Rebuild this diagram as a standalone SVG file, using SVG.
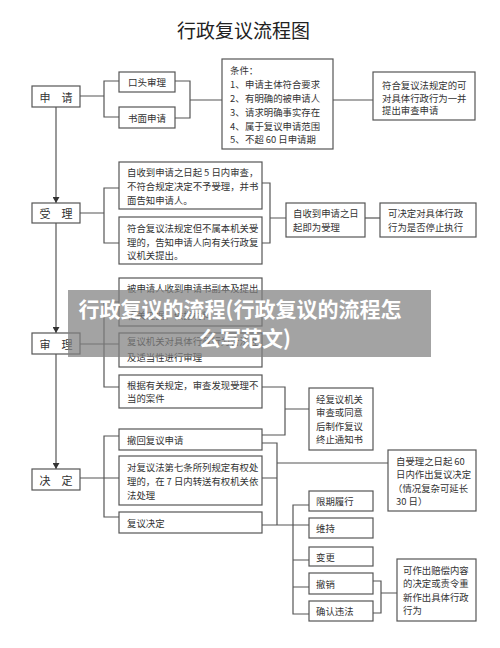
<svg xmlns="http://www.w3.org/2000/svg" width="500" height="648" viewBox="0 0 500 648">
<defs>
<style>
.box{fill:#fff;stroke:#555;stroke-width:1.2}
.c{fill:none;stroke:#555;stroke-width:1.2}
.t{font-family:"Noto Sans CJK SC","Liberation Sans",sans-serif;font-size:9.4px;fill:#333;dominant-baseline:central}
.lbl{font-family:"Noto Sans CJK SC","Liberation Sans",sans-serif;font-size:11px;fill:#333;dominant-baseline:central;text-anchor:middle}
.title{font-family:"Noto Sans CJK SC","Liberation Sans",sans-serif;font-size:19px;fill:#222;text-anchor:middle}
.wm{font-family:"Noto Sans CJK SC","Liberation Sans",sans-serif;font-size:21px;font-weight:bold;fill:#fff;text-anchor:middle;dominant-baseline:central}
</style>
<marker id="down" markerUnits="userSpaceOnUse" markerWidth="7" markerHeight="6" viewBox="0 0 7 6" refX="3.5" refY="6" orient="0">
<path d="M0 0 L7 0 L3.5 6 Z" fill="#333"/>
</marker>
</defs>
<rect width="500" height="648" fill="#fff"/>
<text class="title" x="243.5" y="38">行政复议流程图</text>

<g id="connectors">
<path class="c" d="M56 107 V203" marker-end="url(#down)"/>
<path class="c" d="M56 223 V333" marker-end="url(#down)"/>
<path class="c" d="M56 354 V469" marker-end="url(#down)"/>
<path class="c" d="M80 96 H104 M119 81 H104 V117 H119"/>
<path class="c" d="M175 81 H190 V118 H175 M190 100 H222"/>
<path class="c" d="M333 100 H373"/>
<path class="c" d="M80 213 H104 M119 188 H104 V243 H119"/>
<path class="c" d="M262 183 H270 V243 H262 M270 218 H286"/>
<path class="c" d="M365 218 H380"/>
<path class="c" d="M80 344 H119 M119 302 H104 V387 H119"/>
<path class="c" d="M262 387 H285 V435 H262 M285 409 H309"/>
<path class="c" d="M80 478 H119 M119 436 H104 V517 H119"/>
<path class="c" d="M262 443 H277 V525 M262 478 H277 M262 525 H309 M277 463 H388"/>
<path class="c" d="M309 505 H293 V614 H309 M293 560 H309 M293 587 H309"/>
<path class="c" d="M373 581 H381 V613 H373 M381 593 H397"/>
</g>

<g id="shenqing"><rect class="box" x="32" y="86" width="48" height="21"/><text class="lbl" x="56" y="96.5">申　请</text></g>
<g id="koutou"><rect class="box" x="119" y="72" width="56" height="20"/><text class="lbl" style="font-size:9.5px" x="147" y="82">口头审理</text></g>
<g id="shumian"><rect class="box" x="119" y="107" width="56" height="21"/><text class="lbl" style="font-size:9.5px" x="147" y="117.5">书面申请</text></g>
<g id="tiaojian"><rect class="box" x="222" y="59" width="111" height="90"/>
<text class="t" x="230" y="70">条件：</text>
<text class="t" x="230" y="84">1、</text><text class="t" x="245" y="84">申请主体符合要求</text>
<text class="t" x="230" y="98">2、</text><text class="t" x="245" y="98">有明确的被申请人</text>
<text class="t" x="230" y="112">3、</text><text class="t" x="245" y="112">请求明确事实存在</text>
<text class="t" x="230" y="126">4、</text><text class="t" x="245" y="126">属于复议申请范围</text>
<text class="t" x="230" y="139">5、</text><text class="t" x="245" y="139">不超 60 日申请期</text>
</g>
<g id="yibing"><rect class="box" x="373" y="72" width="102" height="48"/>
<text class="t" x="382" y="85">符合复议法规定的可</text>
<text class="t" x="382" y="98">对具体行政行为一并</text>
<text class="t" x="382" y="110">提出审查申请</text>
</g>

<g id="shouli"><rect class="box" x="32" y="203" width="48" height="20"/><text class="lbl" x="56" y="213">受　理</text></g>
<g id="shouliA"><rect class="box" x="119" y="162" width="143" height="47"/>
<text class="t" x="127" y="172">自收到申请之日起 5 日内审查，</text>
<text class="t" x="127" y="186">不符合规定决定不予受理，并书</text>
<text class="t" x="127" y="200">面告知申请人。</text>
</g>
<g id="shouliB"><rect class="box" x="119" y="217" width="143" height="47"/>
<text class="t" x="127" y="228">符合复议法规定但不属本机关受</text>
<text class="t" x="127" y="242">理的，告知申请人向有关行政复</text>
<text class="t" x="127" y="255">议机关提出。</text>
</g>
<g id="jishouli"><rect class="box" x="286" y="203" width="79" height="34"/>
<text class="t" x="293" y="213">自收到申请之日</text>
<text class="t" x="293" y="227">起即为受理</text>
</g>
<g id="tingzhi"><rect class="box" x="380" y="203" width="96" height="34"/>
<text class="t" x="388" y="213">可决定对具体行政</text>
<text class="t" x="388" y="227">行为是否停止执行</text>
</g>

<g id="shenli"><rect class="box" x="32" y="333" width="48" height="21"/><text class="lbl" x="56" y="343.5">审　理</text></g>
<g id="shenliA"><rect class="box" x="119" y="278" width="143" height="48"/>
<text class="t" x="127" y="288">被申请人收到申请书副本及提出</text>
<text class="t" x="127" y="315">相关证据、依据材料</text>
</g>
<g id="shenliB"><rect class="box" x="119" y="333" width="143" height="34"/>
<text class="t" x="127" y="341">复议机关对具体行政行为合法性</text>
<text class="t" x="127" y="357">及适当性进行审理</text>
</g>
<g id="shenliC"><rect class="box" x="119" y="375" width="143" height="33"/>
<text class="t" x="127" y="385">根据有关规定，审查发现受理不</text>
<text class="t" x="127" y="398">当的案件</text>
</g>
<g id="zhongzhi"><rect class="box" x="309" y="388" width="64" height="62"/>
<text class="t" x="316" y="399">经复议机关</text>
<text class="t" x="316" y="412">审查或同意</text>
<text class="t" x="316" y="426">后制作复议</text>
<text class="t" x="316" y="439">终止通知书</text>
</g>

<g id="jueding"><rect class="box" x="32" y="469" width="48" height="21"/><text class="lbl" x="56" y="479.5">决　定</text></g>
<g id="chehui"><rect class="box" x="119" y="429" width="143" height="21"/>
<text class="t" x="127" y="440">撤回复议申请</text>
</g>
<g id="diqitiao"><rect class="box" x="119" y="456" width="143" height="49"/>
<text class="t" x="127" y="467">对复议法第七条所列规定有权处</text>
<text class="t" x="127" y="481">理的，在 7 日内转送有权机关依</text>
<text class="t" x="127" y="495">法处理</text>
</g>
<g id="fuyijueding"><rect class="box" x="119" y="512" width="143" height="21"/>
<text class="t" x="127" y="522.5">复议决定</text>
</g>
<g id="liushiri"><rect class="box" x="388" y="450" width="88" height="61"/>
<text class="t" x="396" y="461">自受理之日起 60</text>
<text class="t" x="396" y="474">日内作出复议决定</text>
<text class="t" x="393" y="488">（情况复杂可延长</text>
<text class="t" x="396" y="501">30 日）</text>
</g>
<g id="xianqi"><rect class="box" x="309" y="491" width="64" height="20"/><text class="t" x="316" y="501">限期履行</text></g>
<g id="weichi"><rect class="box" x="309" y="518" width="64" height="20"/><text class="t" x="316" y="528">维持</text></g>
<g id="biangeng"><rect class="box" x="309" y="547" width="64" height="19"/><text class="t" x="316" y="556.5">变更</text></g>
<g id="chexiao"><rect class="box" x="309" y="573" width="64" height="21"/><text class="t" x="316" y="583.5">撤销</text></g>
<g id="queren"><rect class="box" x="309" y="601" width="64" height="20"/><text class="t" x="316" y="611">确认违法</text></g>
<g id="peichang"><rect class="box" x="397" y="559" width="79" height="62"/>
<text class="t" x="403" y="570">可作出赔偿内容</text>
<text class="t" x="403" y="583">的决定或责令重</text>
<text class="t" x="403" y="597">新作出具体行政</text>
<text class="t" x="403" y="610">行为</text>
</g>

<g id="watermark">
<rect x="68" y="290" width="363" height="67" fill="#808080" fill-opacity="0.72"/>
<text class="wm" x="240" y="308">行政复议的流程(行政复议的流程怎</text>
<text class="wm" x="245" y="337">么写范文)</text>
</g>
</svg>
